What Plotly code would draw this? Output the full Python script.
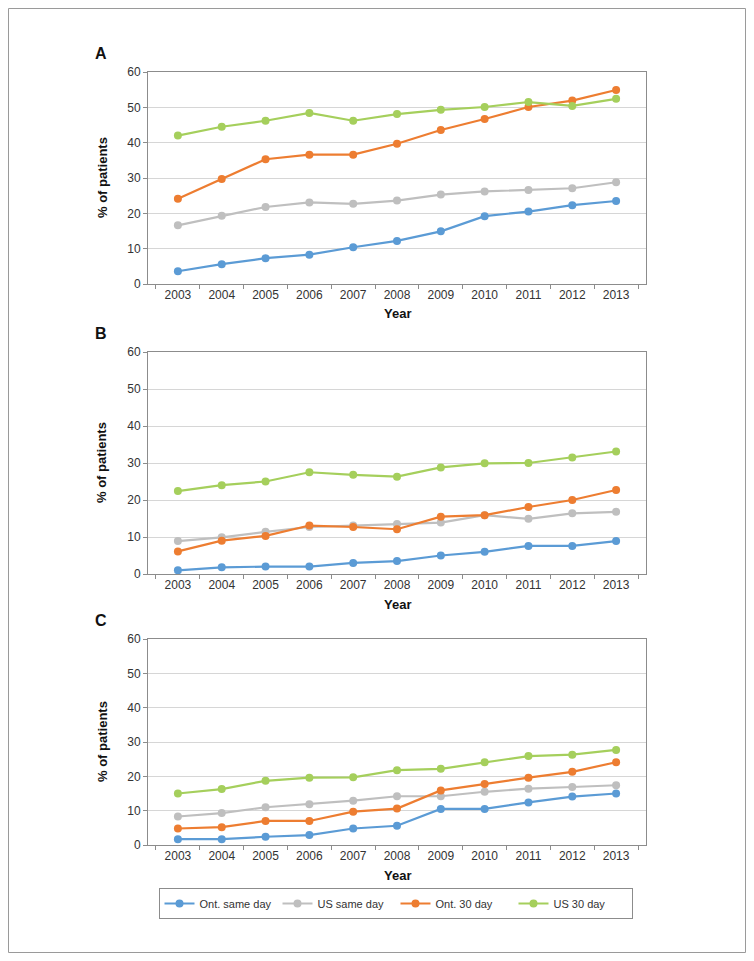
import plotly.graph_objects as go

YEARS = [str(y) for y in range(2003, 2014)]
SERIES = ["Ont. same day", "US same day", "Ont. 30 day", "US 30 day"]
COLORS = ["#5B9BD5", "#BFBFBF", "#ED7D31", "#A5CF5C"]

# panel A
a_ont_same = [3.6, 5.6, 7.3, 8.3, 10.4, 12.2, 14.9, 19.2, 20.5, 22.3, 23.5]
a_us_same = [16.6, 19.3, 21.8, 23.1, 22.7, 23.6, 25.3, 26.2, 26.6, 27.1, 28.8]
a_ont_30 = [24.1, 29.7, 35.3, 36.6, 36.6, 39.7, 43.6, 46.7, 50.1, 51.9, 54.9]
a_us_30 = [42.0, 44.5, 46.2, 48.4, 46.2, 48.1, 49.3, 50.1, 51.5, 50.4, 52.4]

# panel B
b_ont_same = [1.0, 1.8, 2.0, 2.0, 3.0, 3.5, 5.0, 6.0, 7.6, 7.6, 8.9]
b_us_same = [8.9, 9.9, 11.4, 12.7, 13.1, 13.5, 13.9, 15.9, 14.9, 16.4, 16.8]
b_ont_30 = [6.1, 9.0, 10.3, 13.1, 12.7, 12.1, 15.5, 15.9, 18.1, 20.0, 22.7]
b_us_30 = [22.4, 24.0, 25.0, 27.5, 26.8, 26.3, 28.8, 29.9, 30.0, 31.5, 33.1]

# panel C
c_ont_same = [1.7, 1.7, 2.4, 2.9, 4.8, 5.6, 10.5, 10.5, 12.4, 14.1, 15.0]
c_us_same = [8.3, 9.3, 11.0, 11.9, 12.9, 14.2, 14.2, 15.5, 16.4, 16.9, 17.4]
c_ont_30 = [4.8, 5.2, 7.0, 7.0, 9.7, 10.6, 15.9, 17.8, 19.6, 21.3, 24.1]
c_us_30 = [15.0, 16.3, 18.7, 19.6, 19.7, 21.8, 22.2, 24.1, 25.9, 26.3, 27.7]

PANELS = [
    ("A", [a_ont_same, a_us_same, a_ont_30, a_us_30]),
    ("B", [b_ont_same, b_us_same, b_ont_30, b_us_30]),
    ("C", [c_ont_same, c_us_same, c_ont_30, c_us_30]),
]

# the page body has an 8px margin, so the figure is the framed area only
OFF = 8
W, H = 738, 945
FONT = "Liberation Sans, Arial, Helvetica, sans-serif"
AXIS = "#8C8C8C"
GRID = "#D6D6D6"

# window-pixel geometry of each plot area (top, bottom) and the x extent
X0, X1 = 148, 646
ROWS = [(72, 284), (352, 574), (639, 845)]


def px(x):
    return (x - OFF) / W


def py(y):
    return 1 - (y - OFF) / H


fig = go.Figure()
layout = dict(
    width=W, height=H,
    margin=dict(l=0, r=0, t=0, b=0, autoexpand=False),
    paper_bgcolor="white", plot_bgcolor="white",
    font=dict(family=FONT, size=12, color="#333333"),
    showlegend=True,
    legend=dict(
        orientation="h", x=px(395.5), y=py(903.5), xanchor="center", yanchor="middle",
        bordercolor="#8C8C8C", borderwidth=1, font=dict(size=11, color="#333333"),
        itemwidth=30, tracegroupgap=0, entrywidth=73, entrywidthmode="pixels",
    ),
)
annotations = []

for i, (label, values) in enumerate(PANELS):
    n = "" if i == 0 else str(i + 1)
    top, bot = ROWS[i]
    for name, vals, col in zip(SERIES, values, COLORS):
        fig.add_trace(go.Scatter(
            x=YEARS, y=vals, name=name, mode="lines+markers",
            line=dict(color=col, width=2.2),
            marker=dict(color=col, size=8),
            xaxis="x" + n, yaxis="y" + n,
            showlegend=(i == 0),
        ))
    layout["xaxis" + n] = dict(
        domain=[px(X0), px(X1)], anchor="y" + n, type="category", automargin=False,
        showline=True, linecolor=AXIS, linewidth=1, mirror=True,
        ticks="outside", tickson="boundaries", ticklen=4, tickcolor=AXIS,
        showgrid=False, tickfont=dict(size=12, color="#333333"),
    )
    layout["yaxis" + n] = dict(
        domain=[py(bot), py(top)], anchor="x" + n, range=[0, 60], dtick=10,
        automargin=False,
        showline=True, linecolor=AXIS, linewidth=1, mirror=True,
        ticks="outside", ticklen=4, tickcolor=AXIS,
        showgrid=True, gridcolor=GRID, gridwidth=1.3, zeroline=False,
        tickfont=dict(size=12, color="#333333"),
    )
    annotations.append(dict(
        text="<b>" + label + "</b>", x=px(101), y=py(top - 19),
        xref="paper", yref="paper", xanchor="center", yanchor="middle",
        showarrow=False, font=dict(size=16, color="#111111"),
    ))
    annotations.append(dict(
        text="<b>% of patients</b>", x=px(102), y=py((top + bot) / 2),
        xref="paper", yref="paper", xanchor="center", yanchor="middle",
        showarrow=False, textangle=-90, font=dict(size=13, color="#111111"),
    ))
    annotations.append(dict(
        text="<b>Year</b>", x=px(397), y=py(bot + 30),
        xref="paper", yref="paper", xanchor="center", yanchor="middle",
        showarrow=False, font=dict(size=13, color="#111111"),
    ))

layout["annotations"] = annotations
layout["shapes"] = [dict(
    type="rect", xref="paper", yref="paper",
    x0=0.5 / W, x1=1 - 0.5 / W, y0=0.5 / H, y1=1 - 0.5 / H,
    line=dict(color="#9A9A9A", width=1), layer="below",
)]
fig.update_layout(**layout)

fig.write_html("out.html")
